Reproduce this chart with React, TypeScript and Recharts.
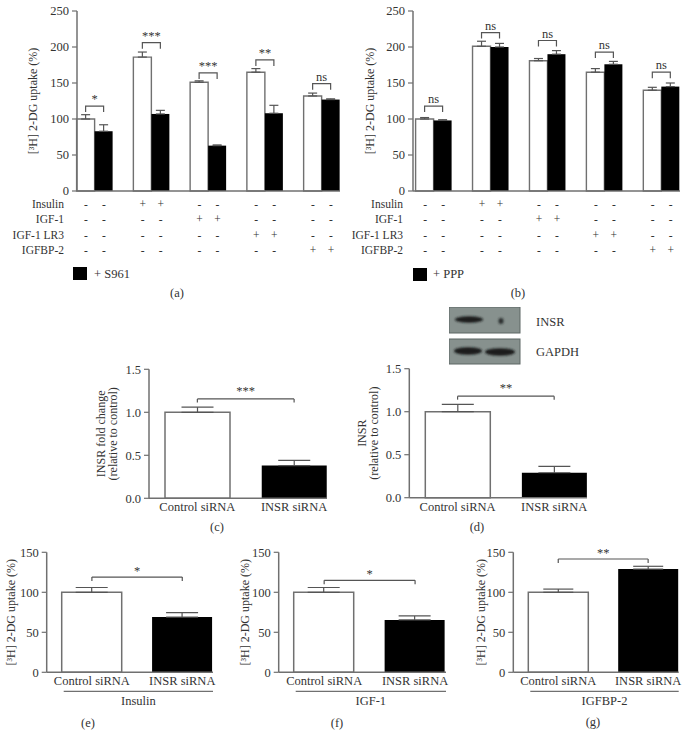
import React from 'react';
import { BarChart, Bar, XAxis, YAxis, ErrorBar, ReferenceLine, Cell } from 'recharts';

const FONT = '"Liberation Serif", "DejaVu Serif", serif';
const INK = '#333';
const AXIS = '#707070';
const FS = 12.5;

// panels (a) and (b): five treatment groups
const groupPos = [1, 2, 3, 4, 5];
const treatments = ['Insulin', 'IGF-1', 'IGF-1 LR3', 'IGFBP-2'];
const groupAdded = ['', 'Insulin', 'IGF-1', 'IGF-1 LR3', 'IGFBP-2'];
const uptakeTicks = [0, 50, 100, 150, 200, 250];

const aControl = [100, 186, 151, 165, 132];
const aControlErr = [6, 7, 2, 5, 4];
const aS961 = [83, 107, 63, 108, 127];
const aS961Err = [9, 5, 1, 11, 1];
const aBracket = [118, 206, 164, 182, 149];
const aSig = ['*', '***', '***', '**', 'ns'];

const bControl = [100, 201, 181, 165, 140];
const bControlErr = [2, 7, 3, 5, 4];
const bPPP = [98, 200, 190, 176, 145];
const bPPPErr = [1, 5, 5, 4, 5];
const bBracket = [118, 220, 209, 193, 165];
const bSig = ['ns', 'ns', 'ns', 'ns', 'ns'];

// panels (c)-(g): control vs INSR siRNA
const sirnaPos = [1, 2];
const sirnaLabels = ['Control siRNA', 'INSR siRNA'];
const foldTicks = [0, 0.5, 1.0, 1.5];
const smallTicks = [0, 50, 100, 150];

const cFold = [1.0, 0.38];
const cFoldErr = [0.06, 0.06];
const dInsr = [1.0, 0.29];
const dInsrErr = [0.085, 0.075];
const eUptake = [100, 69];
const eErr = [6, 5.5];
const fUptake = [100, 65.5];
const fErr = [6, 5];
const gUptake = [100, 129];
const gErr = [4, 3.5];

const pairRows = (ctrl: number[], ctrlErr: number[], trt: number[], trtErr: number[], br: number[], sig: string[]) =>
  groupPos.map((pos, i) => ({
    pos,
    ctrl: ctrl[i],
    ctrlErr: [0, ctrlErr[i]],
    trt: trt[i],
    trtErr: [0, trtErr[i]],
    bracket: br[i],
    sig: sig[i],
  }));

const yLabel = (lines: string[], cx: number) => (props: any) => {
  const vb = props.viewBox || { y: 0, height: 0 };
  const cy = vb.y + vb.height / 2;
  const lh = 12;
  return (
    <text
      transform={`translate(${cx},${cy}) rotate(-90)`}
      textAnchor="middle"
      dominantBaseline="central"
      fontFamily={FONT}
      fontSize={12}
      fill={INK}
    >
      {lines.map((l, i) => (
        <tspan key={i} x={0} dy={i === 0 ? -((lines.length - 1) / 2) * lh : lh}>
          {l}
        </tspan>
      ))}
    </text>
  );
};

const TreatmentTick = (p: any) => {
  const { x, y, payload } = p;
  const g = payload.value - 1;
  return (
    <g fontFamily={FONT} fontSize={11.5} fill={INK}>
      {treatments.map((t, r) => {
        const ty = y + 12.5 + r * 15.5;
        const s = groupAdded[g] === t ? '+' : '-';
        return (
          <g key={t}>
            {g === 0 && (
              <text x={x - 31} y={ty} textAnchor="end" dominantBaseline="central">
                {t}
              </text>
            )}
            <text x={x - 9} y={ty} textAnchor="middle" dominantBaseline="central">
              {s}
            </text>
            <text x={x + 9} y={ty} textAnchor="middle" dominantBaseline="central">
              {s}
            </text>
          </g>
        );
      })}
    </g>
  );
};

// black bar + significance bracket spanning both bars of the pair
const pairShape = (p: any) => {
  const { x, y, width, height, payload } = p;
  const k = height / payload.trt;
  const ly = y + height - payload.bracket * k;
  const x1 = x - width / 2;
  const x2 = x + width / 2;
  return (
    <g>
      <rect x={x} y={y} width={width} height={height} fill="#000" />
      <path d={`M${x1},${ly + 6}V${ly}H${x2}V${ly + 6}`} fill="none" stroke="#555" strokeWidth={1.2} />
      <text x={(x1 + x2) / 2} y={ly - 3} textAnchor="middle" fontSize={FS} fill={INK} fontFamily={FONT}>
        {payload.sig}
      </text>
    </g>
  );
};

type Box = { left: number; top: number; width: number; height: number; barSize?: number };
type Plot = { x0: number; x1: number; y0: number; y1: number };

function PairChart({ rows, box, plot, domain, labelX }: { rows: any[]; box: Box; plot: Plot; domain: number[]; labelX: number }) {
  const xh = 70;
  return (
    <div style={{ position: 'absolute', left: box.left, top: box.top }}>
      <BarChart
        width={box.width}
        height={box.height}
        data={rows}
        barGap={0}
        margin={{ top: plot.y0 - box.top, right: box.left + box.width - plot.x1, left: 0, bottom: box.top + box.height - plot.y1 - xh }}
      >
        <XAxis
          type="number"
          dataKey="pos"
          domain={domain}
          ticks={groupPos}
          tickCount={5}
          interval={0}
          height={xh}
          tickLine={false}
          tickSize={0}
          tickMargin={0}
          axisLine={{ stroke: AXIS, strokeWidth: 1.5 }}
          tick={<TreatmentTick />}
        />
        <YAxis
          domain={[0, 250]}
          ticks={uptakeTicks}
          interval={0}
          width={plot.x0 - box.left}
          tickSize={5}
          tickMargin={3}
          axisLine={{ stroke: AXIS, strokeWidth: 1.5 }}
          tickLine={{ stroke: AXIS, strokeWidth: 1.2 }}
          tick={{ fontSize: FS, fill: INK, fontFamily: FONT }}
          label={{ content: yLabel(['[³H] 2-DG uptake (%)'], labelX - box.left) }}
        />
        <Bar dataKey="ctrl" barSize={18} fill="#fff" stroke={AXIS} strokeWidth={1.4} isAnimationActive={false}>
          <ErrorBar dataKey="ctrlErr" width={4.5} stroke="#555" strokeWidth={1.2} direction="y" isAnimationActive={false} />
        </Bar>
        <Bar dataKey="trt" barSize={18} fill="#000" shape={pairShape} isAnimationActive={false}>
          <ErrorBar dataKey="trtErr" width={4.5} stroke="#555" strokeWidth={1.2} direction="y" isAnimationActive={false} />
        </Bar>
      </BarChart>
    </div>
  );
}

function SirnaChart({
  values, errs, box, plot, yDomain, yTicks, fold, bracket, drop, sig, sigOffset, labelLines, labelX, stimulus, capWidth,
}: any) {
  const xh = stimulus ? 36 : 20;
  const rows = sirnaPos.map((pos, i) => ({ pos, value: values[i], err: [0, errs[i]] }));
  const stimLabel = (props: any) => {
    const vb = props.viewBox;
    return (
      <g>
        <line x1={vb.x + 17} x2={vb.x + vb.width} y1={vb.y + 19} y2={vb.y + 19} stroke={AXIS} strokeWidth={1.2} />
        <text x={(vb.x + 17 + vb.x + vb.width) / 2} y={vb.y + 28.5} textAnchor="middle" dominantBaseline="central" fontFamily={FONT} fontSize={FS} fill={INK}>
          {stimulus}
        </text>
      </g>
    );
  };
  return (
    <div style={{ position: 'absolute', left: box.left, top: box.top }}>
      <BarChart
        width={box.width}
        height={box.height}
        data={rows}
        margin={{ top: plot.y0 - box.top, right: box.left + box.width - plot.x1, left: 0, bottom: box.top + box.height - plot.y1 - xh }}
      >
        <XAxis
          type="number"
          dataKey="pos"
          domain={[0.5, 2.34]}
          ticks={sirnaPos}
          tickCount={2}
          interval={0}
          height={xh}
          tickLine={false}
          tickSize={0}
          tickMargin={0}
          axisLine={{ stroke: AXIS, strokeWidth: 1.5 }}
          tick={(p: any) => (
            <text x={p.x} y={p.y + 9} textAnchor="middle" dominantBaseline="central" fontFamily={FONT} fontSize={FS} fill={INK}>
              {sirnaLabels[p.payload.value - 1]}
            </text>
          )}
          label={stimulus ? { content: stimLabel } : undefined}
        />
        <YAxis
          domain={yDomain}
          ticks={yTicks}
          interval={0}
          width={plot.x0 - box.left}
          tickSize={5}
          tickMargin={3}
          axisLine={{ stroke: AXIS, strokeWidth: 1.5 }}
          tickLine={{ stroke: AXIS, strokeWidth: 1.2 }}
          tick={{ fontSize: FS, fill: INK, fontFamily: FONT }}
          tickFormatter={(v: number) => (fold ? v.toFixed(1) : String(v))}
          label={{ content: yLabel(labelLines, labelX - box.left) }}
        />
        <Bar dataKey="value" barSize={box.barSize} isAnimationActive={false}>
          <Cell fill="#fff" stroke={AXIS} strokeWidth={1.5} />
          <Cell fill="#000" />
          <ErrorBar dataKey="err" width={capWidth} stroke="#555" strokeWidth={1.2} direction="y" isAnimationActive={false} />
        </Bar>
        <ReferenceLine
          segment={[{ x: 1, y: bracket }, { x: 2, y: bracket }]}
          stroke="#555"
          strokeWidth={1.2}
          label={{ value: sig, position: 'top', offset: sigOffset, fill: INK, fontSize: FS, fontFamily: FONT }}
        />
        <ReferenceLine segment={[{ x: 1, y: bracket }, { x: 1, y: bracket - drop }]} stroke="#555" strokeWidth={1.2} />
        <ReferenceLine segment={[{ x: 2, y: bracket }, { x: 2, y: bracket - drop }]} stroke="#555" strokeWidth={1.2} />
      </BarChart>
    </div>
  );
}

const Txt = ({ x, y, children, anchor = 'center' }: any) => (
  <div
    style={{
      position: 'absolute',
      left: x,
      top: y,
      transform: anchor === 'center' ? 'translate(-50%,-50%)' : 'translate(0,-50%)',
      whiteSpace: 'nowrap',
      fontFamily: FONT,
      fontSize: FS,
      color: INK,
      lineHeight: 1,
    }}
  >
    {children}
  </div>
);

function Blot() {
  return (
    <svg style={{ position: 'absolute', left: 449, top: 307 }} width={72} height={58}>
      <defs>
        <filter id="blur" x="-50%" y="-50%" width="200%" height="200%">
          <feGaussianBlur stdDeviation="1.3" />
        </filter>
      </defs>
      <rect x={0} y={0} width={71} height={26} fill="#87918e" stroke="#5d6664" strokeWidth={1} />
      <rect x={0} y={32} width={71} height={25} fill="#87918e" stroke="#5d6664" strokeWidth={1} />
      <g filter="url(#blur)">
        <ellipse cx={20} cy={12.5} rx={14} ry={3.2} fill="#1b1f1f" />
        <ellipse cx={52} cy={14} rx={2.5} ry={3} fill="#2a2f2f" />
        <ellipse cx={19} cy={44} rx={14} ry={3.8} fill="#1b1f1f" />
        <ellipse cx={51} cy={45} rx={15} ry={3.8} fill="#1b1f1f" />
      </g>
    </svg>
  );
}

export default function App() {
  const rowsA = pairRows(aControl, aControlErr, aS961, aS961Err, aBracket, aSig);
  const rowsB = pairRows(bControl, bControlErr, bPPP, bPPPErr, bBracket, bSig);
  return (
    <div style={{ position: 'relative', width: 700, height: 744, background: '#fff', overflow: 'hidden' }}>
      <style>{'body{margin:0}'}</style>

      <PairChart rows={rowsA} box={{ left: 0, top: 0, width: 350, height: 265 }} plot={{ x0: 77, x1: 340, y0: 11, y1: 191 }} domain={[0.683, 5.317]} labelX={33} />
      <PairChart rows={rowsB} box={{ left: 320, top: 0, width: 380, height: 265 }} plot={{ x0: 413, x1: 680, y0: 11, y1: 191 }} domain={[0.63, 5.32]} labelX={370} />

      <div style={{ position: 'absolute', left: 73, top: 267, width: 14, height: 13, background: '#000' }} />
      <Txt x={94} y={273.5} anchor="left">+ S961</Txt>
      <div style={{ position: 'absolute', left: 413, top: 268, width: 14, height: 13, background: '#000' }} />
      <Txt x={433} y={274} anchor="left">+ PPP</Txt>
      <Txt x={177} y={293}>(a)</Txt>
      <Txt x={518} y={293}>(b)</Txt>

      <Blot />
      <Txt x={536} y={321.5} anchor="left">INSR</Txt>
      <Txt x={536} y={352} anchor="left">GAPDH</Txt>

      <SirnaChart
        values={cFold} errs={cFoldErr}
        box={{ left: 80, top: 330, width: 260, height: 190, barSize: 65 }}
        plot={{ x0: 149, x1: 327, y0: 369.3, y1: 498.3 }}
        yDomain={[0, 1.5]} yTicks={foldTicks} fold bracket={1.155} drop={0.04} sig="***" sigOffset={4}
        labelLines={['INSR fold change', '(relative to control)']} labelX={106.5} capWidth={16}
      />
      <SirnaChart
        values={dInsr} errs={dInsrErr}
        box={{ left: 340, top: 330, width: 260, height: 190, barSize: 65 }}
        plot={{ x0: 409.3, x1: 587, y0: 368.7, y1: 497.7 }}
        yDomain={[0, 1.5]} yTicks={foldTicks} fold bracket={1.18} drop={0.04} sig="**" sigOffset={4}
        labelLines={['INSR', '(relative to control)']} labelX={368} capWidth={16}
      />
      <Txt x={217} y={527}>(c)</Txt>
      <Txt x={477} y={527}>(d)</Txt>

      <SirnaChart
        values={eUptake} errs={eErr}
        box={{ left: 0, top: 530, width: 225, height: 180, barSize: 60 }}
        plot={{ x0: 46.7, x1: 213, y0: 552.3, y1: 672.3 }}
        yDomain={[0, 150]} yTicks={smallTicks} bracket={119} drop={5} sig="*" sigOffset={2}
        labelLines={['[³H] 2-DG uptake (%)']} labelX={11} stimulus="Insulin" capWidth={16}
      />
      <SirnaChart
        values={fUptake} errs={fErr}
        box={{ left: 230, top: 530, width: 225, height: 180, barSize: 60 }}
        plot={{ x0: 278.7, x1: 446, y0: 552.3, y1: 672.3 }}
        yDomain={[0, 150]} yTicks={smallTicks} bracket={115} drop={5} sig="*" sigOffset={2}
        labelLines={['[³H] 2-DG uptake (%)']} labelX={245} stimulus="IGF-1" capWidth={16}
      />
      <SirnaChart
        values={gUptake} errs={gErr}
        box={{ left: 465, top: 530, width: 225, height: 180, barSize: 60 }}
        plot={{ x0: 513.3, x1: 678.7, y0: 552.3, y1: 672.3 }}
        yDomain={[0, 150]} yTicks={smallTicks} bracket={141.6} drop={5} sig="**" sigOffset={2}
        labelLines={['[³H] 2-DG uptake (%)']} labelX={481} stimulus="IGFBP-2" capWidth={15}
      />
      <Txt x={88} y={723}>(e)</Txt>
      <Txt x={337} y={723}>(f)</Txt>
      <Txt x={593} y={722}>(g)</Txt>
    </div>
  );
}
